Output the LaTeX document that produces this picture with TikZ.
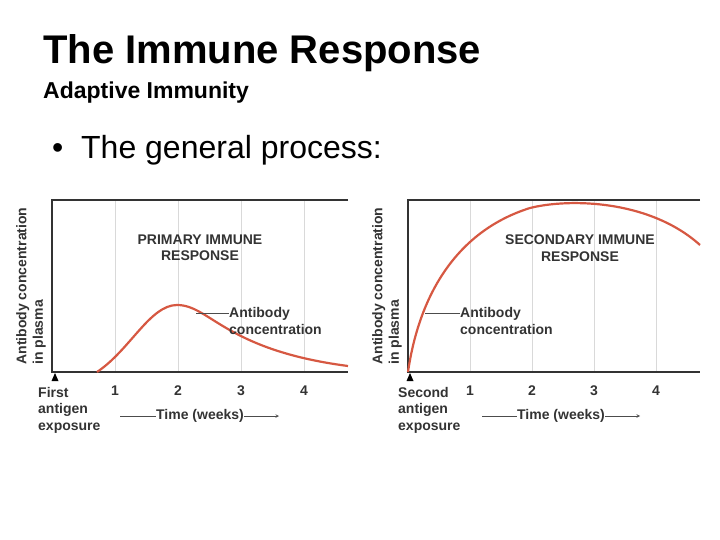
\documentclass[tikz,border=0pt]{standalone}
\usepackage{fontspec}
\setmainfont{Liberation Sans}
\usetikzlibrary{positioning}
\definecolor{curvered}{RGB}{214,88,66}
\begin{document}
\begin{tikzpicture}[x=1pt,y=-1pt,
axis/.style={draw=black!80, line width=1.2pt},
grid/.style={draw=black!15, line width=0.7pt},
curve/.style={draw=curvered, line width=2.2pt},
lbl/.style={font=\bfseries\fontsize{14}{16.5}\selectfont, text=black!80, align=left, inner sep=0pt},
head/.style={lbl, align=center},
tick/.style={lbl, anchor=north}
]
\useasboundingbox (0,0) rectangle (720,540);
\node[anchor=west, font=\bfseries\fontsize{40}{44}\selectfont, inner sep=0pt] (title) at (43,53) {The Immune Response};
\node[anchor=west, font=\bfseries\fontsize{23}{26}\selectfont, inner sep=0pt] (sub) at (43,93) {Adaptive Immunity};
\node[anchor=west, font=\fontsize{32}{36}\selectfont, inner sep=0pt] (bullet) at (52,150) {\textbullet\ \ The general process:};

% primary response
\foreach \w in {1,...,4} {
  \draw[grid] (52+63*\w,200) -- (52+63*\w,372);
  \node[tick] (pt\w) at (52+63*\w,386) {\w};
}
\draw[axis] (348,200) -- (52,200) -- (52,372) -- (348,372);
\draw[curve] (97,372) .. controls (130,350) and (150,305) .. (177,305)
  .. controls (210,305) and (225,350) .. (348,366);
\node[head] (ph) at (200,248) {PRIMARY IMMUNE\\RESPONSE};
\node[lbl, anchor=west] (pl) at (229,321) {Antibody\\concentration};
\draw[black!70, line width=0.8pt] (196,313) -- (pl.west |- 0,313);
\node[lbl, rotate=90] (py) at (31,286) {Antibody concentration\\in plasma};
\fill[black] (55,373) -- (51.5,381) -- (58.5,381) -- cycle;
\node[lbl, anchor=north west] (pf) at (38,387) {First\\antigen\\exposure};
\node[lbl] (ptime) at (200,416) {Time (weeks)};
\draw[black!70, line width=0.6pt] (120,416) -- (ptime.west);
\draw[black!70, line width=0.6pt, -stealth] (ptime.east) -- (279,416);

% secondary response
\foreach \w in {1,...,4} {
  \draw[grid] (408+62*\w,200) -- (408+62*\w,372);
  \node[tick] (st\w) at (408+62*\w,386) {\w};
}
\draw[axis] (700,200) -- (408,200) -- (408,372) -- (700,372);
\draw[curve] (408,372) .. controls (420,290) and (460,230) .. (530,208)
  .. controls (570,198) and (650,200) .. (700,245);
\node[head] (sh) at (580,248) {SECONDARY IMMUNE\\RESPONSE};
\node[lbl, anchor=west] (sl) at (460,321) {Antibody\\concentration};
\draw[black!70, line width=0.8pt] (425,313) -- (sl.west |- 0,313);
\node[lbl, rotate=90] (sy) at (387,286) {Antibody concentration\\in plasma};
\fill[black] (410,373) -- (406.5,381) -- (413.5,381) -- cycle;
\node[lbl, anchor=north west] (sf) at (398,387) {Second\\antigen\\exposure};
\node[lbl] (stime) at (561,416) {Time (weeks)};
\draw[black!70, line width=0.6pt] (482,416) -- (stime.west);
\draw[black!70, line width=0.6pt, -stealth] (stime.east) -- (640,416);
\end{tikzpicture}
\end{document}
